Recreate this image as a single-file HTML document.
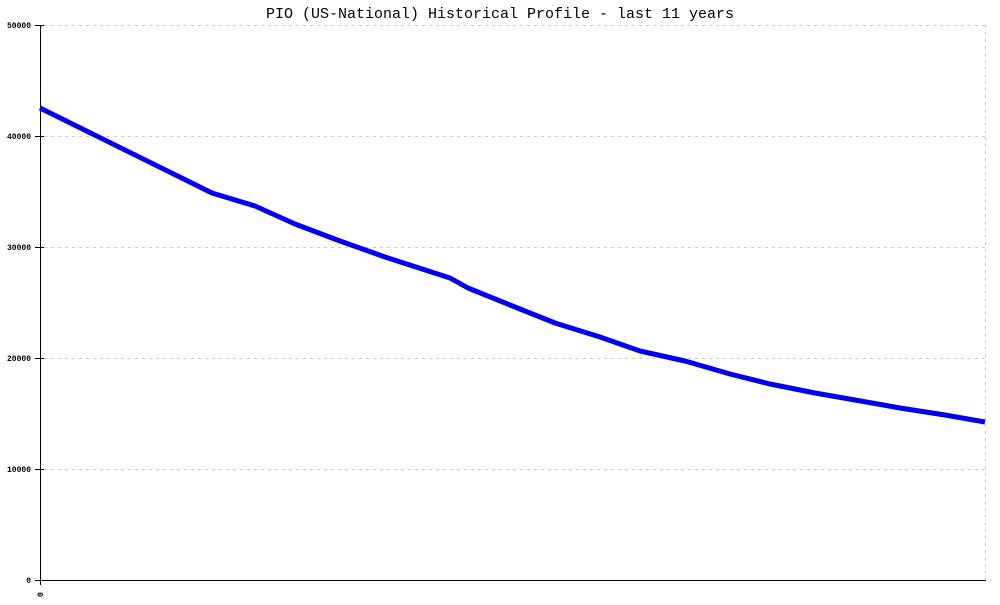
<!DOCTYPE html>
<html><head><style>body{margin:0;background:#fff}</style></head><body>
<svg width="1000" height="600" xmlns="http://www.w3.org/2000/svg" font-family="Liberation Mono, monospace">
<rect width="1000" height="600" fill="#fff"/>
<text x="500" y="18" text-anchor="middle" font-size="15">PIO (US-National) Historical Profile - last 11 years</text>
<g stroke="#c8c8c8" stroke-dasharray="3,4" stroke-width="1">
<line x1="44" y1="25.5" x2="985" y2="25.5"/>
<line x1="44" y1="136.5" x2="985" y2="136.5"/>
<line x1="44" y1="247.5" x2="985" y2="247.5"/>
<line x1="44" y1="358.5" x2="985" y2="358.5"/>
<line x1="44" y1="469.5" x2="985" y2="469.5"/>
<line x1="985.5" y1="25" x2="985.5" y2="580"/>
</g>
<g stroke="#000" stroke-width="1">
<line x1="40.5" y1="25" x2="40.5" y2="585"/>
<line x1="35" y1="580.5" x2="986" y2="580.5"/>
<line x1="35" y1="25.5" x2="44" y2="25.5"/>
<line x1="35" y1="136.5" x2="44" y2="136.5"/>
<line x1="35" y1="247.5" x2="44" y2="247.5"/>
<line x1="35" y1="358.5" x2="44" y2="358.5"/>
<line x1="35" y1="469.5" x2="44" y2="469.5"/>
</g>
<g font-size="8" text-anchor="end" font-weight="bold">
<text x="31" y="28">50000</text>
<text x="31" y="139">40000</text>
<text x="31" y="250">30000</text>
<text x="31" y="361">20000</text>
<text x="31" y="472">10000</text>
<text x="31" y="583">0</text>
</g>
<text transform="translate(43,597) rotate(-90)" font-size="8" font-weight="bold">0</text>
<polyline fill="none" stroke="#0000ee" stroke-width="5" stroke-linejoin="round" points="40,108 212,193 255,206 295,224 340,241 385,257 450,278 468,288 510,305 555,323 600,337 640,351 685,361 730,374 770,384 815,393 855,400 900,408 945,415 985,422"/>
</svg>
</body></html>
